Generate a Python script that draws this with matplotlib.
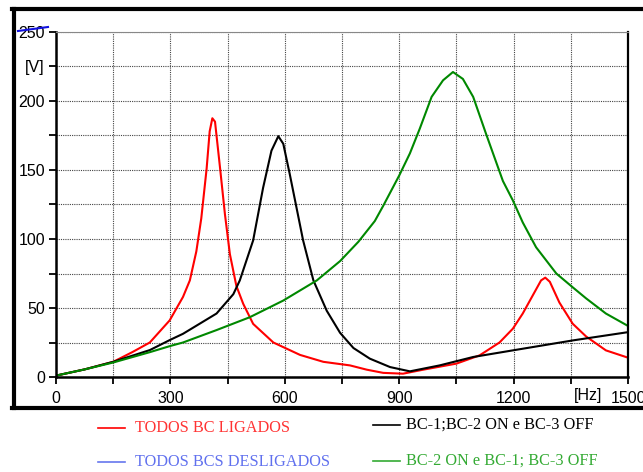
import matplotlib
matplotlib.use("Agg")
import matplotlib.pyplot as plt
from matplotlib.lines import Line2D

# Frequencias [Hz] e tensoes [V]
f_ligados = [0, 25, 75, 150, 200, 246, 298, 333, 351, 368, 381, 395, 403, 410, 417,
             430, 443, 456, 473, 491, 517, 570, 640, 701, 771, 815, 858, 910, 963,
             1050, 1111, 1163, 1198, 1224, 1250, 1272, 1283, 1295, 1320, 1355, 1390,
             1442, 1500]
v_ligados = [1, 2.5, 5.5, 11, 18, 25, 41, 58, 70, 91, 115, 151, 178, 187.5, 185,
             152, 118, 89, 66, 53, 38.5, 25, 16, 11, 8.4, 5.3, 3, 2.4, 5.3,
             9.7, 15.7, 25, 35, 46, 59, 70, 72, 69, 54, 38.6, 29.4,
             19.3, 14]

f_bc12 = [0, 25, 75, 150, 246, 300, 333, 421, 465, 482, 517, 543, 565, 583, 596,
          613, 648, 675, 710, 745, 780, 823, 876, 928, 1006, 1094, 1198, 1355, 1500]
v_bc12 = [1, 2.5, 5.5, 11, 19.5, 27, 31.3, 46, 60, 70, 99, 137, 164, 174.5, 169,
          147, 99, 70, 48, 32, 21, 13.3, 7.2, 4.1, 8.4, 14.5, 19.3, 26.5, 32.5]

f_bc2 = [0, 25, 75, 150, 246, 300, 333, 421, 508, 596, 684, 745, 793, 836, 858,
         900, 928, 954, 985, 1015, 1041, 1067, 1094, 1128, 1172, 1198, 1224, 1259,
         1312, 1355, 1390, 1442, 1500]
v_bc2 = [1, 2.5, 5.5, 10.5, 18, 22.5, 25, 34, 43.3, 55.4, 70, 84, 98, 113, 124,
         146, 162, 180, 203, 215, 221, 216, 203, 176, 142, 128, 112, 94,
         75, 65, 57, 46, 37]

x_ticks = list(range(0, 1501, 150))
x_labels = ['0', '', '300', '', '600', '', '900', '', '1200', '', '1500']
y_ticks = list(range(0, 251, 25))
y_labels = ['0', '', '50', '', '100', '', '150', '', '200', '[V]', '250']

fig = plt.figure(figsize=(6.43, 4.72), dpi=100)
ax = fig.add_axes([56 / 643, 1 - 377 / 472, 572 / 643, 345 / 472])

ax.plot(f_ligados, v_ligados, color='#ff0000', lw=1.5)
ax.plot(f_bc12, v_bc12, color='black', lw=1.5)
ax.plot(f_bc2, v_bc2, color='#008800', lw=1.5)

ax.set_xlim(0, 1500)
ax.set_ylim(0, 250)
ax.set_xticks(x_ticks)
ax.set_xticklabels(x_labels)
ax.set_yticks(y_ticks)
ax.set_yticklabels(y_labels)
ax.tick_params(direction='out', length=5, width=1.3, labelsize=11.5, colors='black')
ax.tick_params(axis='x', pad=5)
ax.tick_params(axis='y', pad=3)
for lab in ax.get_xticklabels() + ax.get_yticklabels():
    lab.set_family('Liberation Sans')
ax.grid(True, color='#444444', linestyle=(0, (1, 1)), linewidth=0.8)

ax.spines['left'].set_linewidth(1.8)
ax.spines['bottom'].set_linewidth(1.8)
ax.spines['right'].set_linewidth(1.6)
ax.spines['top'].set_linewidth(0.8)
ax.spines['top'].set_color('#888888')

ax.text(1395, -8, '[Hz]', ha='center', va='top', fontsize=11.5,
        family='Liberation Sans', transform=ax.transData)

# moldura externa
W, H = 643, 472
frame = dict(color='black', lw=3, transform=fig.transFigure)
fig.add_artist(Line2D([14 / W, 14 / W], [1 - 9 / H, 1 - 408 / H], **frame))
fig.add_artist(Line2D([12 / W, 1], [1 - 9 / H, 1 - 9 / H], **frame))
fig.add_artist(Line2D([12 / W, 1], [1 - 408 / H, 1 - 408 / H], **frame))
# traço azul sobre o "250"
fig.add_artist(Line2D([18 / W, 48 / W], [1 - 31 / H, 1 - 27 / H], color='#1010e0',
                      lw=1.5, transform=fig.transFigure))

# legenda
legenda = [
    ('TODOS BC LIGADOS', '#ff0000', '#ff3333', 98, 428),
    ('TODOS BCS DESLIGADOS', '#6677ee', '#6070ee', 98, 462),
    ('BC-1;BC-2 ON e BC-3 OFF', 'black', 'black', 373, 425),
    ('BC-2 ON e BC-1; BC-3 OFF', '#33aa33', '#33aa33', 373, 461),
]
for texto, cor_linha, cor_texto, x0, y0 in legenda:
    fig.add_artist(Line2D([x0 / W, (x0 + 27) / W], [1 - y0 / H, 1 - y0 / H],
                          color=cor_linha, lw=1.2, transform=fig.transFigure))
    dx = 37 if x0 < 200 else 33
    fig.text((x0 + dx) / W, 1 - y0 / H, texto, color=cor_texto, fontsize=11.7,
             family='Liberation Serif', va='center', ha='left')

fig.savefig('out.png', dpi=100)
